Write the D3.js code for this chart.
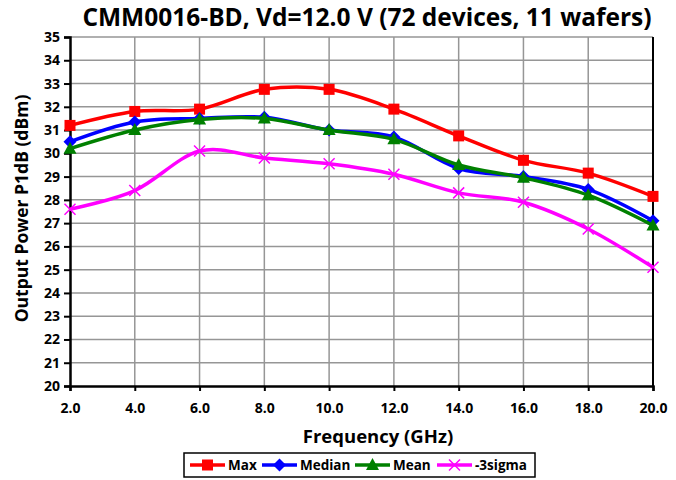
<!DOCTYPE html>
<meta charset="utf-8">
<style>
  body { margin: 0; background: #fff; }
  text { font-family: "Open Sans", "DejaVu Sans", sans-serif; font-weight: bold; }
</style>
<svg width="676" height="480"></svg>
<script src="https://cdn.jsdelivr.net/npm/d3@7"></script>
<script>

var freqs = [2, 4, 6, 8, 10, 12, 14, 16, 18, 20];
var maxVals = [31.2, 31.8, 31.9, 32.75, 32.75, 31.9, 30.75, 29.7, 29.15, 28.15];
var medianVals = [30.5, 31.35, 31.5, 31.55, 31.0, 30.7, 29.35, 29.0, 28.45, 27.1];
var meanVals = [30.2, 31.0, 31.45, 31.5, 31.0, 30.6, 29.5, 28.95, 28.2, 26.9];
var sigmaVals = [27.6, 28.4, 30.1, 29.8, 29.55, 29.1, 28.3, 27.9, 26.75, 25.1];
var yTicks = d3.range(20, 36, 1);

var svg = d3.select("svg"),
    margin = {top: 37, right: 23, bottom: 94, left: 70},
    width = 676 - margin.left - margin.right,
    height = 480 - margin.top - margin.bottom;

var x = d3.scaleLinear().domain([2, 20]).range([0, width]),
    y = d3.scaleLinear().domain([20, 35]).range([height, 0]);

var series = [
  {name: "Max", values: maxVals, color: "#ff0000", marker: "square"},
  {name: "Median", values: medianVals, color: "#0000ff", marker: "diamond"},
  {name: "Mean", values: meanVals, color: "#008000", marker: "triangle"},
  {name: "-3sigma", values: sigmaVals, color: "#ff00ff", marker: "x"}
];

var g = svg.append("g")
    .attr("transform", "translate(" + margin.left + "," + margin.top + ")");

// grid
g.append("g").selectAll("line.h")
  .data(yTicks.slice(1))
  .enter().append("line")
    .attr("x1", 0).attr("x2", width)
    .attr("y1", function(d) { return y(d); })
    .attr("y2", function(d) { return y(d); })
    .style("stroke", "#969696").style("stroke-width", 1.5);

g.append("g").selectAll("line.v")
  .data(freqs.slice(1))
  .enter().append("line")
    .attr("y1", 0).attr("y2", height)
    .attr("x1", function(d) { return x(d); })
    .attr("x2", function(d) { return x(d); })
    .style("stroke", "#969696").style("stroke-width", 1.5);

// axes
var xAxis = g.append("g")
    .attr("transform", "translate(0," + height + ")")
    .call(d3.axisBottom(x).tickValues(freqs).tickFormat(d3.format(".1f")).tickSize(5).tickPadding(12));

var yAxis = g.append("g")
    .call(d3.axisLeft(y).tickValues(yTicks).tickFormat(d3.format("d")).tickSize(6).tickPadding(4));

[xAxis, yAxis].forEach(function(a) {
  a.select(".domain").style("stroke", "#000").style("stroke-width", 2.5);
  a.selectAll(".tick line").style("stroke", "#000").style("stroke-width", 2);
  a.selectAll(".tick text").style("font-size", "14px").style("font-weight", "bold")
    .style("font-family", "'Open Sans', sans-serif").attr("fill", "#000");
});

// right border
g.append("line")
    .attr("x1", width).attr("x2", width).attr("y1", 0).attr("y2", height)
    .style("stroke", "#000").style("stroke-width", 2);

var line = d3.line()
    .x(function(d, i) { return x(freqs[i]); })
    .y(function(d) { return y(d); })
    .curve(d3.curveCardinal);

function drawMarker(sel, type, color, cx, cy) {
  if (type == "square") {
    sel.append("rect").attr("x", cx - 5.5).attr("y", cy - 5.5)
      .attr("width", 11).attr("height", 11).style("fill", color);
  } else if (type == "diamond") {
    sel.append("path").attr("d", "M" + cx + "," + (cy - 6.5) + "L" + (cx + 6.5) + "," + cy +
      "L" + cx + "," + (cy + 6.5) + "L" + (cx - 6.5) + "," + cy + "Z").style("fill", color);
  } else if (type == "triangle") {
    sel.append("path").attr("d", "M" + cx + "," + (cy - 7) + "L" + (cx + 6.5) + "," + (cy + 5) +
      "L" + (cx - 6.5) + "," + (cy + 5) + "Z").style("fill", color);
  } else {
    sel.append("path").attr("d", "M" + (cx - 5.5) + "," + (cy - 5.5) + "L" + (cx + 5.5) + "," + (cy + 5.5) +
      "M" + (cx + 5.5) + "," + (cy - 5.5) + "L" + (cx - 5.5) + "," + (cy + 5.5))
      .style("stroke", color).style("stroke-width", 1.5).style("fill", "none");
  }
}

series.forEach(function(s) {
  var sg = g.append("g");
  sg.append("path")
    .datum(s.values)
    .attr("d", line)
    .style("fill", "none")
    .style("stroke", s.color)
    .style("stroke-width", 3.5);
  s.values.forEach(function(v, i) {
    drawMarker(sg, s.marker, s.color, x(freqs[i]), y(v));
  });
});

// titles
svg.append("text")
    .attr("x", 367).attr("y", 26)
    .attr("text-anchor", "middle")
    .style("font-size", "24.5px")
    .text("CMM0016-BD, Vd=12.0 V (72 devices, 11 wafers)");

svg.append("text")
    .attr("x", 378).attr("y", 443)
    .attr("text-anchor", "middle")
    .style("font-size", "18.5px")
    .text("Frequency (GHz)");

svg.append("text")
    .attr("transform", "translate(28," + (margin.top + height / 2 - 3) + ") rotate(-90)")
    .attr("text-anchor", "middle")
    .style("font-size", "17.5px")
    .text("Output Power P1dB (dBm)");

// legend
var legend = svg.append("g").attr("transform", "translate(184,453)");
legend.append("rect")
    .attr("width", 351).attr("height", 24)
    .style("fill", "#fff").style("stroke", "#000").style("stroke-width", 1.5);

var legendX = [6, 78, 171, 253];
series.forEach(function(s, i) {
  var lx = legendX[i], ly = 12;
  legend.append("line")
    .attr("x1", lx).attr("x2", lx + 35).attr("y1", ly).attr("y2", ly)
    .style("stroke", s.color).style("stroke-width", 3.5);
  drawMarker(legend, s.marker, s.color, lx + 17.5, ly);
  legend.append("text")
    .attr("x", lx + 38).attr("y", ly + 5)
    .style("font-size", "13.5px")
    .text(s.name);
});

</script>
